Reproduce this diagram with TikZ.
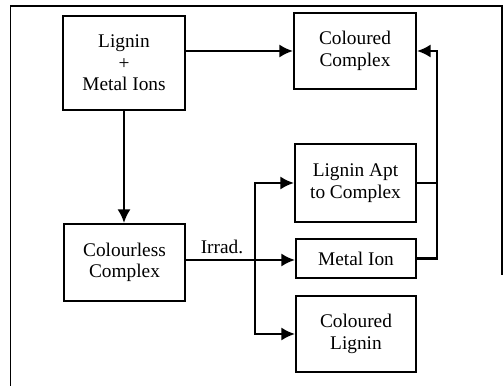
\documentclass[tikz,border=0pt]{standalone}
\usepackage{fontspec}
\setmainfont{Liberation Serif}
\usetikzlibrary{arrows.meta, positioning, calc}

\begin{document}
\begin{tikzpicture}[
  box/.style={draw, line width=1.2pt, align=center, inner sep=2pt,
              font=\fontsize{11}{12.3}\selectfont},
  ln/.style={line width=1.2pt},
  arr/.style={ln, -{Latex[length=0.27cm, width=0.26cm]}},
  lbl/.style={font=\fontsize{11}{12.3}\selectfont, inner sep=1pt}
]
  \useasboundingbox (0,0) rectangle (10.06,-7.72);

  % Frame
  \draw[line width=1pt] (0.21,-7.72) -- (0.21,-0.12) -- (10.04,-0.12) -- (10.04,-5.50);

  % Boxes
  \node[box, minimum width=2.44cm, minimum height=1.88cm] (lm) at (2.48,-1.26) {Lignin\\+\\Metal Ions};
  \node[box, minimum width=2.44cm, minimum height=1.52cm] (cc) at (7.10,-1.02) {Coloured\\Complex};
  \node[box, minimum width=2.42cm, minimum height=1.54cm] (cx) at (2.49,-5.25) {Colourless\\Complex};
  \node[box, minimum width=2.42cm, minimum height=1.56cm] (la) at (7.11,-3.66) {Lignin Apt\\to Complex};
  \node[box, minimum width=2.40cm, minimum height=0.78cm] (mi) at (7.12,-5.17) {Metal Ion};
  \node[box, minimum width=2.40cm, minimum height=1.52cm] (cl) at (7.12,-6.68) {Coloured\\Lignin};

  % Direct reaction
  \draw[arr] (lm.east |- cc) -- (cc.west);
  \draw[arr] (lm.south) -- (lm.south |- cx.north);

  % Irradiation and products
  \coordinate (jn) at (5.10,-5.20);
  \draw[arr] (cx.east |- jn) -- node[lbl, above=2pt, pos=0.33] {Irrad.} (mi.west |- jn);
  \draw[arr] (jn) |- (la.west);
  \draw[arr] (jn) |- (cl.west);

  % Recombination
  \draw[ln] (la.east) -- ++(0.40,0) coordinate (rb);
  \draw[ln] (mi.east) -| (rb);
  \draw[arr] (rb) |- (cc.east);

\end{tikzpicture}
\end{document}
